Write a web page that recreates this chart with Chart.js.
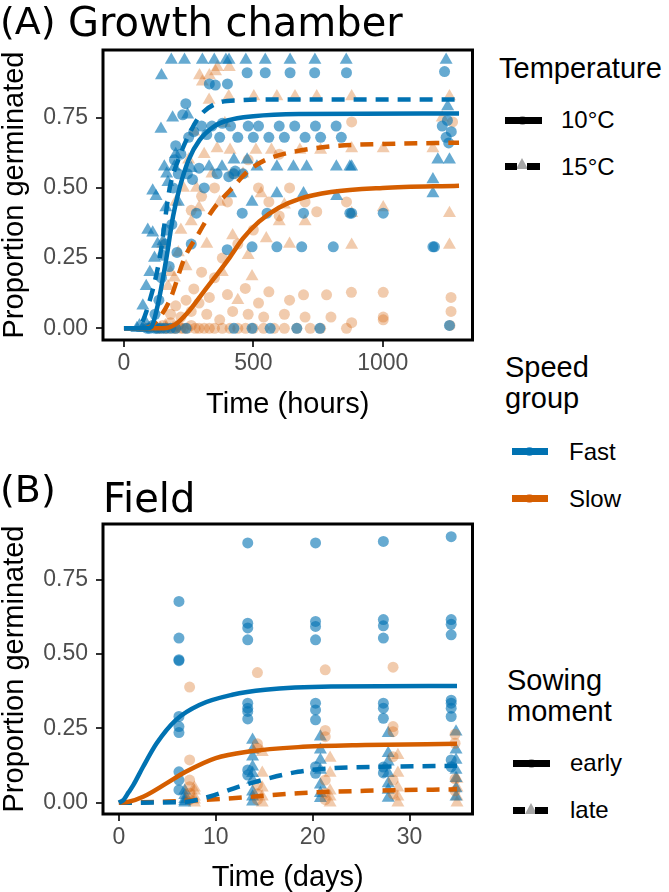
<!DOCTYPE html>
<html>
<head>
<meta charset="utf-8">
<script src="https://cdn.jsdelivr.net/npm/chart.js@4.4.0/dist/chart.umd.min.js"></script>
<style>
  body { margin: 0; width: 669px; height: 892px; background: #fff; position: relative; overflow: hidden;
         font-family: "Liberation Sans", Arial, sans-serif; }
  .wrap { position: absolute; left: 0; width: 480px; }
  .txt { position: absolute; white-space: nowrap; color: #000; }
  .tag { font-family: "DejaVu Sans"; font-size: 38px; line-height: 38px; }
  .ptitle { font-family: "DejaVu Sans"; font-size: 40px; line-height: 40px; }
  .ltitle { font-size: 29px; line-height: 31px; }
  .llab { font-size: 24px; line-height: 24px; }
  .seg { position: absolute; height: 7px; }
  .dot { position: absolute; width: 9px; height: 9px; border-radius: 50%; }
  .tri { position: absolute; width: 0; height: 0; border-left: 6px solid transparent;
         border-right: 6px solid transparent; border-bottom: 11px solid #a6a6a6; }
</style>
</head>
<body>
<div class="wrap" style="top:0;height:430px"><canvas id="chamber"></canvas></div>
<div class="wrap" style="top:440px;height:452px"><canvas id="field"></canvas></div>

<div class="txt tag" style="left:0;top:2px">(A)</div>
<div class="txt ptitle" style="left:68px;top:2px">Growth chamber</div>
<div class="txt tag" style="left:0;top:470px">(B)</div>
<div class="txt ptitle" style="left:103px;top:478px">Field</div>

<!-- Temperature legend -->
<div class="txt ltitle" style="left:499px;top:53px">Temperature</div>
<div class="dot" style="left:518px;top:115.5px;background:#a6a6a6"></div>
<div class="seg" style="left:505px;width:37px;top:116.5px;background:#000"></div>
<div class="txt llab" style="left:561px;top:108px">10°C</div>
<div class="tri" style="left:516px;top:158px"></div>
<div class="seg" style="left:505px;width:12px;top:163px;background:#000"></div>
<div class="seg" style="left:527px;width:13px;top:163px;background:#000"></div>
<div class="txt llab" style="left:561px;top:155px">15°C</div>

<!-- Speed group legend -->
<div class="txt ltitle" style="left:505px;top:352px">Speed<br>group</div>
<div class="dot" style="left:525px;top:447px;background:#5aa5d6"></div>
<div class="seg" style="left:512px;width:36px;top:448px;background:#0072B2"></div>
<div class="txt llab" style="left:569px;top:440px">Fast</div>
<div class="dot" style="left:525px;top:494px;background:#eca47f"></div>
<div class="seg" style="left:512px;width:36px;top:495px;background:#D55E00"></div>
<div class="txt llab" style="left:569px;top:487px">Slow</div>

<!-- Sowing moment legend -->
<div class="txt ltitle" style="left:507px;top:665px">Sowing<br>moment</div>
<div class="dot" style="left:527px;top:759px;background:#a6a6a6"></div>
<div class="seg" style="left:513px;width:37px;top:760px;background:#000"></div>
<div class="txt llab" style="left:570px;top:751px">early</div>
<div class="tri" style="left:525px;top:803px"></div>
<div class="seg" style="left:513px;width:12px;top:807px;background:#000"></div>
<div class="seg" style="left:535px;width:13px;top:807px;background:#000"></div>
<div class="txt llab" style="left:570px;top:798px">late</div>

<script>
// ---- (A) growth chamber, time in hours ----
const chamberFast10 = [
  [90,0],[100,0],[110,0.01],[120,0],[130,0],[145,0],[160,0],[180,0],[200,0],[240,0],
  [425,0],[495,0],[565,0],[668,0],[757,0],[1258,0.01],
  [120,0.05],[135,0.1],[145,0.18],[150,0.26],[160,0.3],[165,0.35],[175,0.22],[185,0.37],
  [190,0.5],[195,0.6],[200,0.65],[205,0.27],[210,0.55],[220,0.62],[227,0.76],[239,0.8],
  [245,0.55],[250,0.68],[260,0.3],[265,0.53],[270,0.7],[280,0.41],[290,0.57],[300,0.72],
  [310,0.5],[320,0.69],[330,0.87],[340,0.72],[353,0.866],[360,0.55],[370,0.68],[380,0.73],
  [399,0.28],[400,0.87],[405,0.54],[412,0.72],[425,0.55],[430,0.56],[440,0.68],[457,0.41],
  [460,0.55],[476,0.91],[480,0.72],[495,0.29],[500,0.68],[520,0.72],[546,0.91],[553,0.41],
  [560,0.68],[591,0.29],[600,0.72],[620,0.68],[642,0.91],[660,0.72],[687,0.29],[694,0.41],
  [700,0.68],[737,0.91],[740,0.72],[760,0.68],[809,0.29],[820,0.72],[840,0.68],[860,0.91],
  [873,0.41],[880,0.41],[1002,0.41],[1194,0.29],[1200,0.29],[1239,0.914],[1230,0.72],
  [1245,0.68],[1250,0.74],[1265,0.7],[1255,0.66]
];
const chamberFast15 = [
  [50,0],[60,0.01],[72,0],[84,0.02],[73,0.08],[86,0.15],[92,0.35],[100,0.2],[111,0.34],
  [111,0.49],[118,0.25],[124,0.47],[130,0.3],[143,0.71],[145,0.9],[151,0.31],[156,0.575],
  [162,0.43],[165,0.55],[170,0.52],[183,0.955],[188,0.75],[195,0.575],[200,0.62],[210,0.45],
  [234,0.955],[246,0.76],[260,0.57],[303,0.955],[329,0.575],[349,0.955],[379,0.575],
  [394,0.955],[406,0.955],[412,0.48],[425,0.6],[471,0.955],[476,0.6],[495,0.45],[514,0.575],
  [546,0.955],[591,0.575],[591,0.48],[642,0.955],[655,0.575],[694,0.48],[706,0.575],
  [738,0.955],[821,0.575],[822,0.47],[859,0.955],[873,0.575],[880,0.575],[1194,0.48],
  [1194,0.53],[1213,0.6],[1245,0.955],[1258,0.6],[1251,0.79]
];
const chamberSlow10 = [
  [130,0],[140,0],[150,0.01],[160,0],[170,0],[180,0.02],[190,0],[200,0],[210,0.01],[220,0],
  [230,0],[245,0],[260,0.01],[275,0],[290,0],[310,0],[330,0],[350,0],[380,0],[410,0],
  [440,0],[470,0],[500,0],[540,0],[580,0],[620,0],[668,0],[720,0],[760,0],[860,0],
  [880,0.02],[1002,0.03],[1260,0.01],
  [180,0.05],[200,0.08],[220,0.04],[240,0.1],[260,0.06],[270,0.14],[290,0.09],[300,0.2],
  [320,0.05],[330,0.11],[350,0.18],[370,0.03],[380,0.25],[400,0.12],[420,0.06],[440,0.3],
  [469,0.142],[480,0.05],[500,0.35],[520,0.09],[540,0.04],[560,0.13],[600,0.4],[620,0.05],
  [640,0.1],[694,0.119],[700,0.04],[783,0.119],[800,0.04],[879,0.128],[1002,0.128],
  [1002,0.04],[1264,0.11],[1264,0.06],
  [260,0.42],[300,0.47],[350,0.5],[400,0.45],[420,0.55],[480,0.6],[520,0.5],[560,0.45],
  [600,0.62],[640,0.5],[700,0.45],[745,0.415],[860,0.45],[880,0.735],[1270,0.735]
];
const chamberSlow15 = [
  [80,0],[100,0],[120,0],[140,0],[160,0.01],[190,0],
  [150,0.3],[170,0.15],[180,0.2],[195,0.18],[200,0.45],[210,0.27],[220,0.35],[230,0.5],
  [240,0.22],[250,0.6],[260,0.38],[270,0.7],[280,0.5],[290,0.43],[292,0.9],[303,0.878],
  [310,0.62],[320,0.3],[329,0.813],[330,0.9],[340,0.55],[354,0.914],[360,0.64],[361,0.93],
  [370,0.45],[380,0.2],[390,0.73],[405,0.825],[407,0.93],[410,0.635],[420,0.33],[440,0.1],
  [460,0.55],[480,0.26],[495,0.184],[502,0.825],[510,0.635],[530,0.48],[550,0.32],
  [570,0.635],[591,0.825],[600,0.38],[620,0.44],[640,0.3],[661,0.825],[680,0.635],
  [700,0.38],[745,0.825],[760,0.635],[880,0.825],[880,0.64],[880,0.41],[880,0.297],
  [1002,0.64],[1002,0.43],[1194,0.64],[1258,0.825],[1258,0.41],[1258,0.297],[1230,0.75]
];
const chamberFast10Fit = [[0,0],[90,0],[106,0.005],[130,0.08],[164,0.25],[190,0.4],[215,0.5],
  [250,0.6],[292,0.67],[350,0.72],[400,0.74],[500,0.755],[676,0.763],[1295,0.765]];
const chamberFast15Fit = [[0,0],[50,0],[61,0.005],[100,0.1],[138,0.25],[177,0.5],[210,0.6],
  [241,0.67],[292,0.755],[356,0.8],[445,0.812],[600,0.815],[1295,0.815]];
const chamberSlow10Fit = [[0,0],[150,0],[200,0.015],[250,0.06],[300,0.12],[350,0.18],[407,0.25],
  [460,0.32],[522,0.38],[600,0.43],[676,0.46],[800,0.485],[1000,0.5],[1295,0.508]];
const chamberSlow15Fit = [[0,0],[80,0],[120,0.02],[177,0.1],[234,0.25],[290,0.34],[342,0.42],
  [419,0.5],[480,0.56],[548,0.6],[663,0.63],[829,0.65],[1000,0.656],[1295,0.661]];
const hourTicks = [0, 500, 1000];

// ---- (B) field, time in days ----
const fieldFastEarly = [
  [6.2,0.677],[6.2,0.554],[6.2,0.481],[6.2,0.478],[6.2,0.29],[6.2,0.256],[6.2,0.236],[6.2,0.104],[6.2,0.076],[6.2,0.043],
  [13.3,0.874],[13.3,0.604],[13.3,0.588],[13.3,0.548],[13.3,0.335],[13.3,0.318],[13.3,0.307],[13.3,0.282],[13.3,0.11],[13.3,0.093],
  [20.3,0.874],[20.3,0.61],[20.3,0.593],[20.3,0.548],[20.3,0.335],[20.3,0.312],[20.3,0.279],[20.3,0.121],[20.3,0.099],
  [27.3,0.879],[27.3,0.616],[27.3,0.595],[27.3,0.554],[27.3,0.335],[27.3,0.318],[27.3,0.284],[27.3,0.12],[27.3,0.1],
  [34.3,0.895],[34.3,0.616],[34.3,0.6],[34.3,0.565],[34.3,0.345],[34.3,0.335],[34.3,0.318],[34.3,0.29],[34.3,0.144],[34.3,0.121]
];
const fieldSlowEarly = [
  [7.3,0.389],[7.3,0.144],[7.3,0.076],[7.3,0.054],[7.3,0.032],[7.3,0.01],
  [14.3,0.438],[14.3,0.198],[14.3,0.183],[14.3,0.06],[14.3,0.03],[14.3,0.01],
  [21.3,0.447],[21.3,0.243],[21.3,0.222],[21.3,0.076],[21.3,0.032],[21.3,0.01],
  [28.3,0.456],[28.3,0.256],[28.3,0.239],[28.3,0.155],[28.3,0.076],[28.3,0.03],
  [34.7,0.23],[34.7,0.2],[34.7,0.08],[34.7,0.04]
];
const fieldFastLate = [
  [6.8,0.04],[6.8,0.025],[6.8,0.012],[6.8,0],[6.8,0.005],
  [13.8,0.211],[13.8,0.178],[13.8,0.155],[13.8,0.121],[13.8,0.099],[13.8,0.076],[13.8,0.037],[13.8,0.02],[13.8,0.003],
  [20.8,0.222],[20.8,0.178],[20.8,0.144],[20.8,0.11],[20.8,0.06],[20.8,0.032],[20.8,0.015],
  [27.8,0.234],[27.8,0.166],[27.8,0.138],[27.8,0.099],[27.8,0.065],[27.8,0.043],[27.8,0.016],
  [34.8,0.239],[34.8,0.178],[34.8,0.144],[34.8,0.11],[34.8,0.082],[34.8,0.048],[34.8,0.02]
];
const fieldSlowLate = [
  [7.8,0.05],[7.8,0.04],[7.8,0.02],[7.8,0.01],[7.8,0],
  [14.8,0.17],[14.8,0.1],[14.8,0.05],[14.8,0.02],[14.8,0],
  [21.8,0.15],[21.8,0.1],[21.8,0.04],[21.8,0.02],[21.8,0],
  [28.8,0.16],[28.8,0.1],[28.8,0.05],[28.8,0.02],[28.8,0],
  [34.9,0.08],[34.9,0.05],[34.9,0.02],[34.9,0]
];
const fieldFastEarlyFit = [[0,0],[0.5,0.01],[1,0.035],[1.5,0.06],[2.5,0.121],[3.9,0.2],[5.9,0.279],
  [8.3,0.329],[11.7,0.363],[15.1,0.38],[21.9,0.391],[34.9,0.393]];
const fieldSlowEarlyFit = [[0,0],[1,0.003],[2.5,0.02],[4.9,0.065],[6.9,0.104],[10,0.15],[13.4,0.172],
  [18.5,0.187],[25.4,0.194],[34.9,0.198]];
const fieldFastLateFit = [[0,0],[6.6,0.002],[9.3,0.02],[12.4,0.054],[15.1,0.079],[18.5,0.104],
  [21.9,0.116],[27.1,0.121],[34.9,0.124]];
const fieldSlowLateFit = [[0,0],[5,0.004],[11.7,0.015],[18.5,0.032],[25.4,0.04],[34.9,0.045]];
const dayTicks = [0, 10, 20, 30];

const propTicks = [0, 0.25, 0.5, 0.75];

const BLUE = '#0072B2', ORANGE = '#D55E00';
const BLUE_PT = 'rgba(0,114,178,0.6)', ORANGE_PT = 'rgba(213,94,0,0.32)';
const FONT = '"Liberation Sans", Arial, sans-serif';

function pts(arr) { return arr.map(p => ({ x: p[0], y: p[1] })); }

function points(arr, col, shape) {
  return { type: 'scatter', data: pts(arr), backgroundColor: col, borderWidth: 0,
           pointStyle: shape, pointRadius: shape === 'triangle' ? 7.5 : 5.5, order: 2 };
}
function curve(arr, col, dashed) {
  return { type: 'line', data: pts(arr), borderColor: col, borderWidth: 4.5,
           borderDash: dashed ? [13, 9] : [], pointRadius: 0, fill: false,
           cubicInterpolationMode: 'monotone', order: 1 };
}

// black box round the panel, like ggplot's panel.border
const frame = {
  id: 'frame',
  afterDatasetsDraw(chart) {
    const a = chart.chartArea, ctx = chart.ctx;
    ctx.save();
    ctx.strokeStyle = '#000';
    ctx.lineWidth = 3;
    ctx.strokeRect(a.left, a.top, a.right - a.left, a.bottom - a.top);
    ctx.restore();
  }
};

function axisBase(ticks, fmt) {
  return {
    type: 'linear',
    afterBuildTicks: s => { s.ticks = ticks.map(v => ({ value: v })); },
    grid: { display: true, drawOnChartArea: false, drawTicks: true, tickLength: 7, color: '#333', lineWidth: 2 },
    border: { display: false },
    ticks: { color: '#4d4d4d', font: { family: FONT, size: 23 }, autoSkip: false, maxRotation: 0, callback: fmt }
  };
}

function makeChart(id, cfg) {
  const x = axisBase(cfg.xTicks, v => String(v));
  Object.assign(x, { min: cfg.xMin, max: cfg.xMax, afterFit: s => { s.height = cfg.xHeight; } });
  x.ticks.padding = 3;
  x.title = { display: true, text: cfg.xTitle, color: '#000', font: { family: FONT, size: 29, lineHeight: 1 },
              padding: { top: 0, bottom: cfg.titlePad } };
  const y = axisBase(propTicks, v => v.toFixed(2));
  Object.assign(y, { min: cfg.yMin, max: cfg.yMax, afterFit: s => { s.width = 103; } });
  y.ticks.padding = 8;
  y.title = { display: true, text: 'Proportion germinated', color: '#000', font: { family: FONT, size: 29, lineHeight: 1 },
              padding: { top: 0, bottom: 0 } };

  return new Chart(document.getElementById(id), {
    type: 'scatter',
    data: { datasets: cfg.datasets },
    options: {
      responsive: true,
      maintainAspectRatio: false,
      animation: false,
      layout: { padding: { top: cfg.padTop, right: cfg.padRight, left: 0, bottom: 0 } },
      plugins: { legend: { display: false }, tooltip: { enabled: false } },
      scales: { x: x, y: y }
    },
    plugins: [frame]
  });
}

makeChart('chamber', {
  xMin: -81, xMax: 1347, yMin: -0.0417, yMax: 0.991,
  xTicks: hourTicks, xTitle: 'Time (hours)', xHeight: 90, titlePad: 11,
  padTop: 50, padRight: 5,
  datasets: [
    curve(chamberFast10Fit, BLUE, false),
    curve(chamberFast15Fit, BLUE, true),
    curve(chamberSlow10Fit, ORANGE, false),
    curve(chamberSlow15Fit, ORANGE, true),
    points(chamberFast10, BLUE_PT, 'circle'),
    points(chamberFast15, BLUE_PT, 'triangle'),
    points(chamberSlow10, ORANGE_PT, 'circle'),
    points(chamberSlow15, ORANGE_PT, 'triangle')
  ]
});

makeChart('field', {
  xMin: -1.64, xMax: 36.5, yMin: -0.038, yMax: 0.9377,
  xTicks: dayTicks, xTitle: 'Time (days)', xHeight: 78, titlePad: 0,
  padTop: 84, padRight: 4,
  datasets: [
    curve(fieldFastEarlyFit, BLUE, false),
    curve(fieldSlowEarlyFit, ORANGE, false),
    curve(fieldFastLateFit, BLUE, true),
    curve(fieldSlowLateFit, ORANGE, true),
    points(fieldFastEarly, BLUE_PT, 'circle'),
    points(fieldSlowEarly, ORANGE_PT, 'circle'),
    points(fieldFastLate, BLUE_PT, 'triangle'),
    points(fieldSlowLate, ORANGE_PT, 'triangle')
  ]
});
</script>
</body>
</html>
